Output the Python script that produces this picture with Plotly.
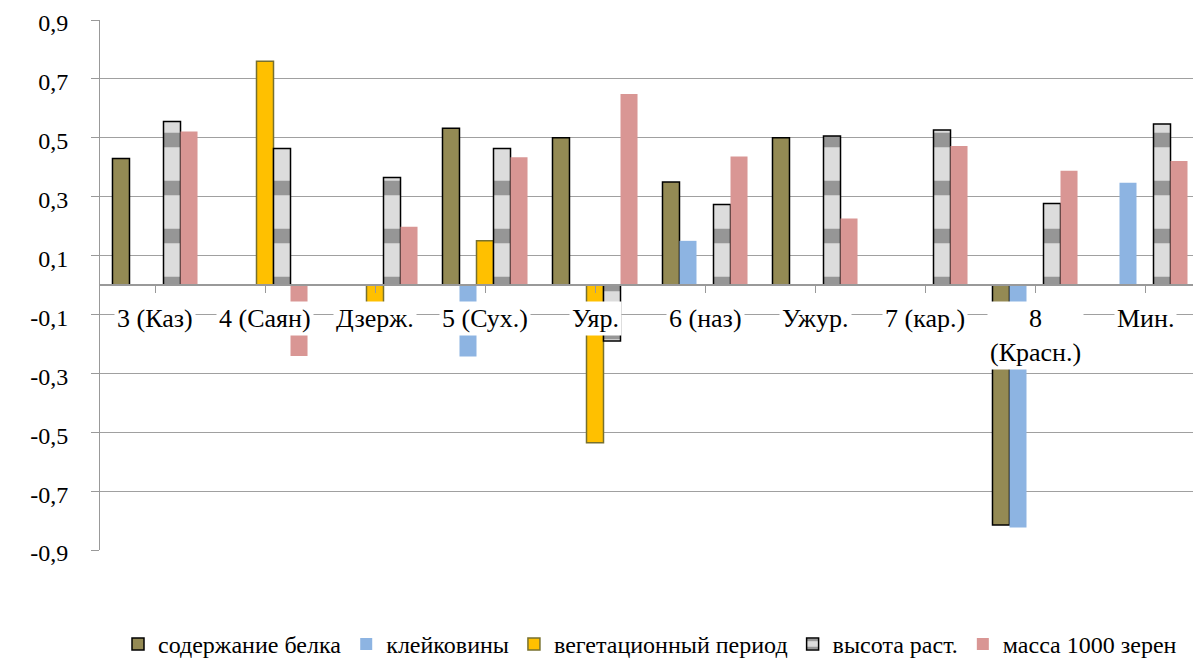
import plotly.graph_objects as go

categories = ["3 (Каз)", "4 (Саян)", "Дзерж.", "5 (Сух.)", "Уяр.", "6 (наз)",
              "Ужур.", "7 (кар.)", "8<br>(Красн.)", "Мин."]
protein = [0.43, None, None, 0.532, 0.5, 0.35, 0.5, None, -0.815, None]
gluten = [None, None, None, -0.243, None, 0.15, None, None, -0.824, 0.347]
vegetation = [None, 0.76, -0.10, 0.15, -0.536, None, None, None, None, None]
height = [0.555, 0.464, 0.365, 0.464, -0.19, 0.273, 0.506, 0.526, 0.277, 0.547]
mass = [0.521, -0.241, 0.198, 0.434, 0.649, 0.436, 0.226, 0.472, 0.388, 0.421]
series_names = ["содержание белка", "клейковины", "вегетационный период",
                "высота раст.", "масса 1000 зерен"]
tick_vals = [-0.9, -0.7, -0.5, -0.3, -0.1, 0.1, 0.3, 0.5, 0.7, 0.9]
tick_text = ["-0,9", "-0,7", "-0,5", "-0,3", "-0,1", "0,1", "0,3", "0,5", "0,7", "0,9"]

FONT = "Liberation Serif"
x = list(range(len(categories)))

fig = go.Figure()
fig.add_trace(go.Bar(x=x, y=protein, name=series_names[0],
                     marker=dict(color="#948A54", line=dict(color="#000000", width=1.5))))
fig.add_trace(go.Bar(x=x, y=gluten, name=series_names[1],
                     marker=dict(color="#8DB4E2", line=dict(width=0))))
fig.add_trace(go.Bar(x=x, y=vegetation, name=series_names[2],
                     marker=dict(color="#FFC000", line=dict(color="#77702F", width=1.5))))
fig.add_trace(go.Bar(x=x, y=height, name=series_names[3],
                     marker=dict(color="#D4D4D4", line=dict(color="#000000", width=1.5),
                                 pattern=dict(shape="-", fgcolor="#505050", bgcolor="#DCDCDC",
                                              size=48, solidity=0.3))))
fig.add_trace(go.Bar(x=x, y=mass, name=series_names[4],
                     marker=dict(color="#D99694", line=dict(width=0))))

for i, c in enumerate(categories):
    fig.add_annotation(x=i, y=-0.055, xref="x", yref="y", text=c, showarrow=False,
                       yanchor="top", xanchor="center", bgcolor="white", borderpad=2,
                       font=dict(family=FONT, size=26, color="black"))

# page body has an 8px default margin, so the figure is sized to fit the window
fig.update_layout(
    width=1193, height=651,
    margin=dict(l=92, r=1, t=12, b=109, autoexpand=False),
    paper_bgcolor="white", plot_bgcolor="white",
    barmode="group", bargap=0.227, bargroupgap=0,
    font=dict(family=FONT, size=26, color="black"),
    showlegend=True,
    legend=dict(orientation="h", x=0.5, xanchor="center", y=-0.178, yanchor="middle",
                font=dict(family=FONT, size=24), itemwidth=30, tracegroupgap=0,
                bgcolor="rgba(0,0,0,0)"),
    xaxis=dict(range=[-0.5, len(categories) - 0.5], showgrid=False, zeroline=False,
               anchor="free", position=0.5, showline=True, linecolor="#999999", linewidth=1.5,
               ticks="outside", ticklen=7, tickcolor="#999999", tickson="boundaries",
               tickvals=x, showticklabels=False, layer="above traces", automargin=False),
    yaxis=dict(range=[-0.9, 0.9], tickvals=tick_vals, ticktext=tick_text,
               showgrid=True, gridcolor="#A0A0A0", gridwidth=1,
               zeroline=True, zerolinecolor="#999999", zerolinewidth=1.5,
               showline=True, linecolor="#999999", linewidth=1,
               ticks="outside", ticklen=8, tickcolor="#999999", automargin=False,
               ticklabeloverflow="allow", ticklabelshift=3,
               ticklabelstandoff=18, tickfont=dict(family=FONT, size=24)),
)

fig.write_html("out.html")
